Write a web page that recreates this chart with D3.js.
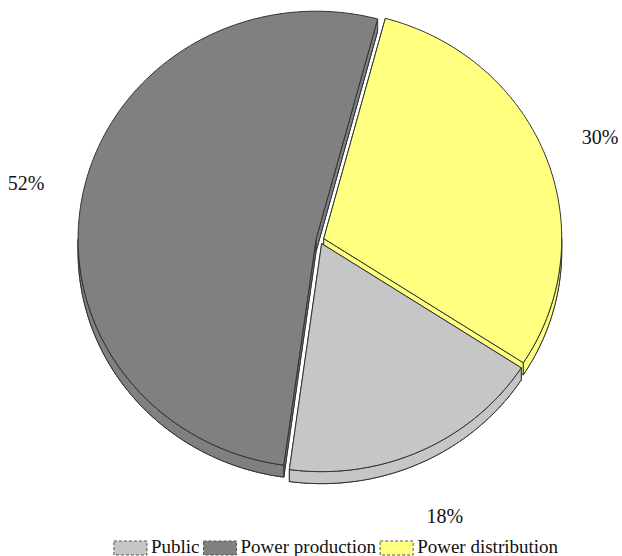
<!DOCTYPE html>
<html>
<head>
<meta charset="utf-8">
<script src="https://cdn.jsdelivr.net/npm/d3@7"></script>
<style>
  body { margin: 0; background: #fff; }
  text { font-family: "Liberation Serif", "DejaVu Serif", serif; fill: #111; }
</style>
</head>
<body>
<svg id="chart" width="622" height="556"></svg>
<script>
/* global d3 */

// data
var categories = ['Public', 'Power production', 'Power distribution'];
var shares = [18, 52, 30];
var shareLabels = ['18%', '52%', '30%'];
// order of the slices round the pie, clockwise from the top
var pieOrder = ['Power distribution', 'Public', 'Power production'];
var sliceColors = ['#c6c6c6', '#808080', '#ffff80'];

// layout
var cx = 320;
var cy = 240;
var rx = 238;
var ry = 228;
var depth = 12;
var explode = 4;
var startDeg = 15;
var lineW = 1;

var svg = d3.select('#chart');

var color = d3.scaleOrdinal().domain(categories).range(sliceColors);
var labelOf = d3.scaleOrdinal().domain(categories).range(shareLabels);

var pie = d3.pie()
  .sort(null)
  .value(function(d) { return d.value; })
  .startAngle(startDeg * Math.PI / 180)
  .endAngle(startDeg * Math.PI / 180 + 2 * Math.PI);

var rows = pieOrder.map(function(name) {
  return { name: name, value: shares[categories.indexOf(name)] };
});
var arcs = pie(rows);

// point on the tilted ellipse, a = clockwise from the top
function pt(a, k, ox, oy) {
  return [cx + ox + rx * k * Math.sin(a), cy + oy - ry * k * Math.cos(a)];
}

function arcPoints(a0, a1, ox, oy) {
  var n = Math.max(2, Math.ceil((a1 - a0) / 0.02));
  return d3.range(n + 1).map(function(i) {
    return pt(a0 + (a1 - a0) * i / n, 1, ox, oy);
  });
}

var line = d3.line();

arcs.forEach(function(d) {
  var mid = (d.startAngle + d.endAngle) / 2;
  d.ox = explode * Math.sin(mid);
  d.oy = -explode * Math.cos(mid);
  d.mid = mid;
});

function sectorPath(d, dy) {
  var pts = [[cx + d.ox, cy + d.oy + dy]].concat(arcPoints(d.startAngle, d.endAngle, d.ox, d.oy + dy));
  return line(pts) + 'Z';
}

var sideLayer = svg.append('g').attr('class', 'side-layer');
var topLayer = svg.append('g').attr('class', 'top-layer');

arcs.forEach(function(d) {
  var g = sideLayer.append('g');
  var fill = color(d.data.name);
  // bottom face
  g.append('path')
    .attr('d', sectorPath(d, depth))
    .attr('fill', fill)
    .attr('stroke', '#333')
    .attr('stroke-width', lineW);
  // radial cut faces
  [d.startAngle, d.endAngle].forEach(function(a) {
    var c = [cx + d.ox, cy + d.oy];
    var p = pt(a, 1, d.ox, d.oy);
    g.append('path')
      .attr('d', line([c, p, [p[0], p[1] + depth], [c[0], c[1] + depth]]) + 'Z')
      .attr('fill', fill)
      .attr('stroke', '#333')
      .attr('stroke-width', lineW)
      .attr('stroke-linejoin', 'round');
  });
  // outer wall, only the front half shows
  [[Math.PI / 2, 3 * Math.PI / 2], [Math.PI / 2 + 2 * Math.PI, 3 * Math.PI / 2 + 2 * Math.PI]].forEach(function(w) {
    var a0 = Math.max(d.startAngle, w[0]);
    var a1 = Math.min(d.endAngle, w[1]);
    if (a1 <= a0) { return; }
    var topPts = arcPoints(a0, a1, d.ox, d.oy);
    var botPts = arcPoints(a0, a1, d.ox, d.oy + depth).reverse();
    g.append('path')
      .attr('d', line(topPts.concat(botPts)) + 'Z')
      .attr('fill', fill)
      .attr('stroke', '#333')
      .attr('stroke-width', lineW);
  });
});

topLayer.selectAll('path')
  .data(arcs)
  .enter()
  .append('path')
  .attr('d', function(d) { return sectorPath(d, 0); })
  .attr('fill', function(d) { return color(d.data.name); })
  .attr('stroke', '#333')
  .attr('stroke-width', lineW)
  .attr('stroke-linejoin', 'round');

// percentage labels
var labelK = 1.26;
svg.append('g')
  .selectAll('text')
  .data(arcs)
  .enter()
  .append('text')
  .attr('x', function(d) { return pt(d.mid, labelK, 0, 0)[0]; })
  .attr('y', function(d) { return pt(d.mid, labelK, 0, 0)[1] + 1.4 * depth * Math.max(0, -Math.cos(d.mid)); })
  .attr('text-anchor', 'middle')
  .attr('dominant-baseline', 'central')
  .style('font-size', '20px')
  .text(function(d) { return labelOf(d.data.name); });

// legend
var legend = svg.append('g').attr('class', 'legend');
var boxW = 33;
var boxH = 14;
var legendY = 541;
var xPos = 0;
categories.forEach(function(name) {
  var item = legend.append('g');
  item.append('rect')
    .attr('x', 0)
    .attr('y', legendY)
    .attr('width', boxW)
    .attr('height', boxH)
    .attr('fill', color(name))
    .attr('stroke', '#555')
    .attr('stroke-width', 1)
    .attr('stroke-dasharray', '3,2');
  var t = item.append('text')
    .attr('x', boxW + 4)
    .attr('y', legendY + 12)
    .style('font-size', '19px')
    .text(name);
  var w = boxW + 4 + t.node().getComputedTextLength();
  item.attr('transform', 'translate(' + xPos + ',0)');
  xPos += w + 4;
});
var legendW = xPos - 4;
legend.attr('transform', 'translate(' + (336 - legendW / 2) + ',0)');
</script>
</body>
</html>
